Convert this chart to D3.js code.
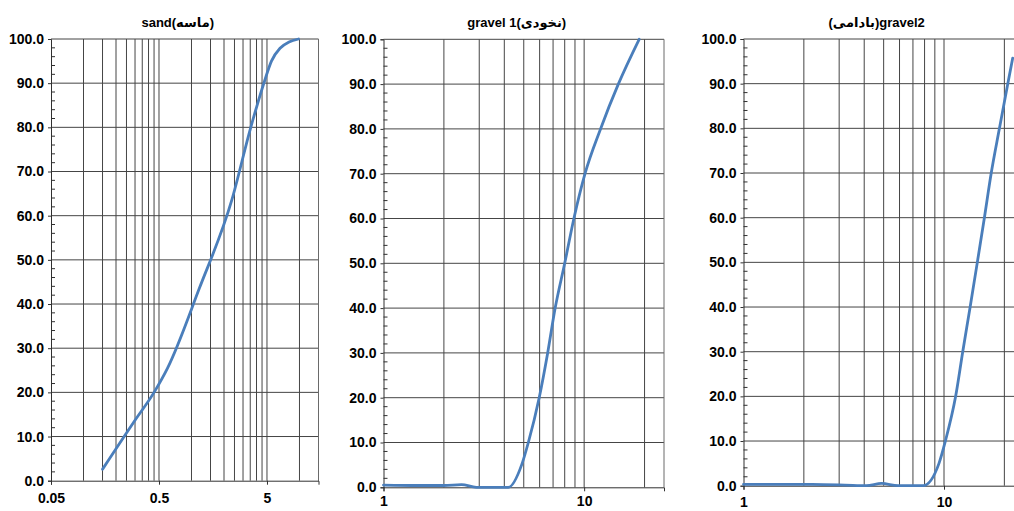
<!DOCTYPE html>
<html>
<head>
<meta charset="utf-8">
<script src="https://cdn.jsdelivr.net/npm/d3@7"></script>
<style>
  html, body { margin: 0; padding: 0; background: #fff; }
  svg { display: block; }
  text { font-family: "Liberation Sans", Arial, "DejaVu Sans", sans-serif; font-weight: bold; fill: #000; }
</style>
</head>
<body>
<svg id="chart" width="1014" height="511"></svg>
<script>
// ---------- data ----------
const titles = ["sand(ماسه)", "gravel 1(نخودی)", "(بادامی)gravel2"];

const sandSizes   = [0.15, 0.3, 0.45, 0.6, 1.18, 2.36, 3.54, 4.75, 5.5, 6.6, 8, 9.8];
const sandPassing = [2.6, 13.7, 20, 25.5, 43.5, 63.5, 80, 90.5, 95, 97.9, 99.3, 100];

const gravel1Sizes   = [1, 1.5, 2, 2.45, 2.9, 3.5, 4.19, 4.88, 5.27, 5.97, 6.58, 7.17, 8.0, 8.89, 10.1, 12.07, 14.8, 18.8];
const gravel1Passing = [0.5, 0.4, 0.4, 0.6, 0, 0, 0, 5, 10, 20, 30, 40, 50, 60, 70, 80, 90, 100];

const gravel2Sizes   = [1, 2.2, 3.2, 4.1, 4.88, 5.9, 7.87, 9.44, 10.16, 11.43, 12.4, 13.5, 14.66, 15.9, 17.2, 18.9, 20.8, 22];
const gravel2Passing = [0.3, 0.3, 0.15, 0, 0.5, 0, 0, 5, 10, 20, 30, 40, 50, 60, 70, 80, 90, 95.7];

const sandXDomain   = [0.05, 15];
const gravelXDomain = [1, 25];

const sandXTickLabels   = [0.05, 0.5, 5];
const gravelXTickLabels = [1, 10];
const sandXGrid   = [0.1, 0.15, 0.2, 0.25, 0.3, 0.35, 0.4, 0.45, 0.5, 1, 1.5, 2, 2.5, 3, 3.5, 4, 4.5, 5, 10, 15];
const gravelXGrid = [2, 3, 4, 5, 6, 7, 8, 9, 10, 20];

const yTickLabels = [0, 10, 20, 30, 40, 50, 60, 70, 80, 90, 100];
const yMinorTicks = d3.range(0, 101, 2).filter(v => v % 10 !== 0);

// ---------- layout ----------
const panels = [
  { title: titles[0], sizes: sandSizes, passing: sandPassing, xDomain: sandXDomain,
    xLabels: sandXTickLabels, xGrid: sandXGrid, fmt: d => String(d),
    left: 51, right: 318.5, top: 39, bottom: 480.7, labelDy: 22 },
  { title: titles[1], sizes: gravel1Sizes, passing: gravel1Passing, xDomain: gravelXDomain,
    xLabels: gravelXTickLabels, xGrid: gravelXGrid, fmt: d => String(d),
    left: 383.5, right: 664, top: 39.3, bottom: 487.3, labelDy: 19 },
  { title: titles[2], sizes: gravel2Sizes, passing: gravel2Passing, xDomain: gravelXDomain,
    xLabels: gravelXTickLabels, xGrid: gravelXGrid, fmt: d => String(d),
    left: 743.5, right: 1023.8, top: 39, bottom: 485.7, labelDy: 21 }
];

const svg = d3.select("#chart");
svg.append("rect").attr("width", 1014).attr("height", 511).attr("fill", "#fff");

const gridColor = "#454545";
const axisColor = "#303030";
const lineColor = "#4a7ebb";

panels.forEach(p => {
  const x = d3.scaleLog().domain(p.xDomain).range([p.left, p.right]);
  const y = d3.scaleLinear().domain([0, 100]).range([p.bottom, p.top]);
  const g = svg.append("g");

  // vertical gridlines
  g.append("g").selectAll("line").data(p.xGrid).join("line")
    .attr("x1", d => x(d)).attr("x2", d => x(d))
    .attr("y1", p.top).attr("y2", p.bottom)
    .attr("stroke", gridColor).attr("stroke-width", 1);

  // horizontal gridlines
  g.append("g").selectAll("line").data(yTickLabels.filter(v => v > 0)).join("line")
    .attr("x1", p.left).attr("x2", p.right)
    .attr("y1", d => y(d)).attr("y2", d => y(d))
    .attr("stroke", gridColor).attr("stroke-width", 1);

  // plot border (right)
  g.append("line")
    .attr("x1", p.right).attr("x2", p.right).attr("y1", p.top).attr("y2", p.bottom)
    .attr("stroke", "#6a6a6a").attr("stroke-width", 1);

  // y axis
  const yAxis = d3.axisLeft(y).tickValues(yTickLabels).tickFormat(d3.format(".1f"))
    .tickSize(3).tickPadding(4);
  const ya = g.append("g").attr("transform", `translate(${p.left},0)`).call(yAxis);
  ya.select(".domain").attr("stroke", axisColor);
  ya.selectAll(".tick line").attr("stroke", axisColor);
  ya.selectAll("text").style("font-size", "14px").attr("fill", "#000");

  // y minor ticks (inside)
  g.append("g").selectAll("line").data(yMinorTicks).join("line")
    .attr("x1", p.left).attr("x2", p.left + 4)
    .attr("y1", d => y(d)).attr("y2", d => y(d))
    .attr("stroke", axisColor).attr("stroke-width", 1);

  // x axis
  const xAxis = d3.axisBottom(x).tickValues(p.xLabels).tickFormat(p.fmt)
    .tickSize(4).tickPadding(p.labelDy - 14);
  const xa = g.append("g").attr("transform", `translate(0,${p.bottom})`).call(xAxis);
  xa.select(".domain").attr("stroke", axisColor);
  xa.selectAll(".tick line").attr("stroke", axisColor);
  xa.selectAll("text").style("font-size", "14px").attr("fill", "#000");

  // curve
  const pts = p.sizes.map((s, i) => [s, p.passing[i]]);
  g.append("path").datum(pts)
    .attr("fill", "none").attr("stroke", lineColor).attr("stroke-width", 2.8)
    .attr("stroke-linecap", "round")
    .attr("d", d3.line().x(d => x(d[0])).y(d => y(d[1])).curve(d3.curveMonotoneX));

  // title
  g.append("text")
    .attr("x", (p.left + p.right) / 2 - 7).attr("y", p.top - 12)
    .attr("text-anchor", "middle").style("font-size", "13px")
    .text(p.title);
});
</script>
</body>
</html>
